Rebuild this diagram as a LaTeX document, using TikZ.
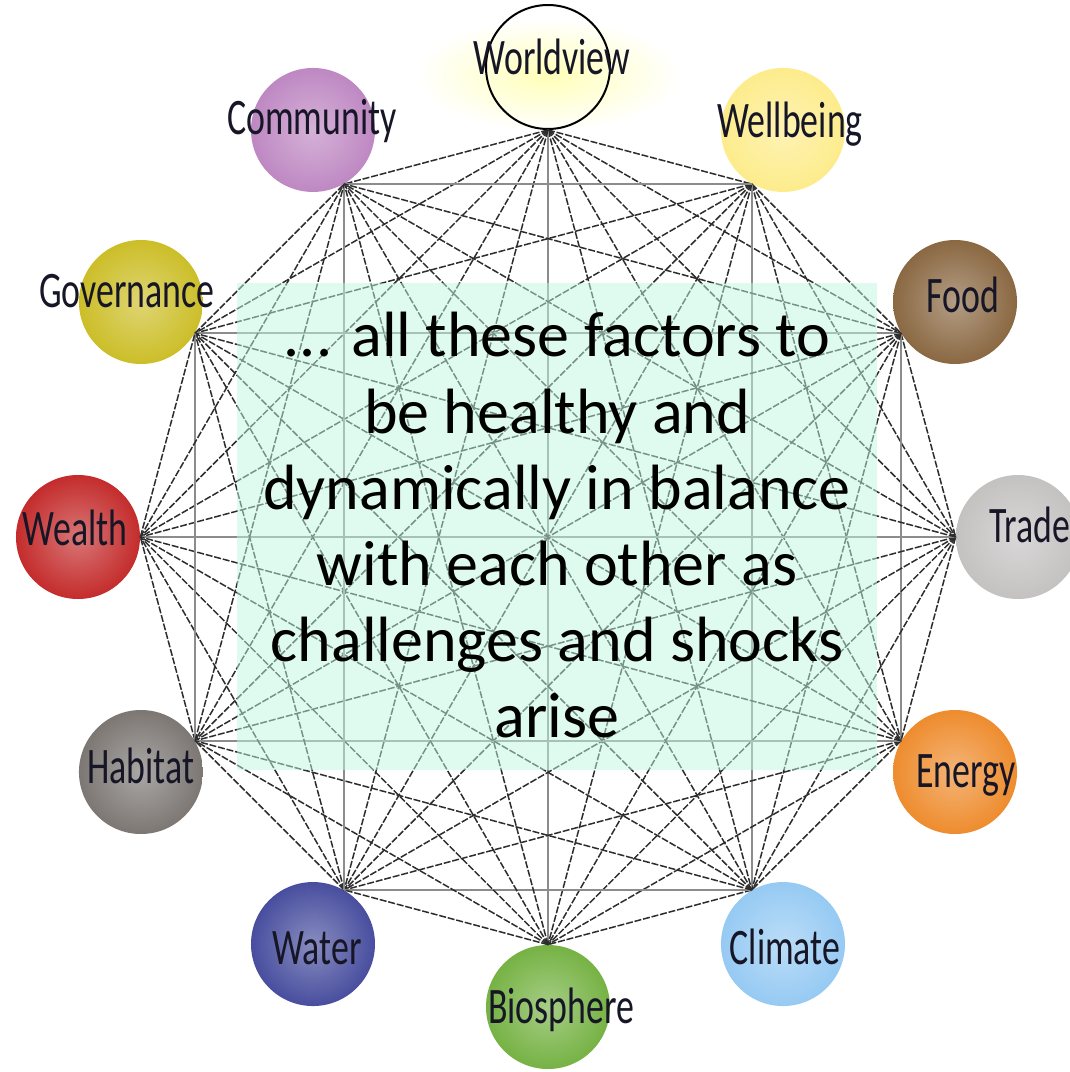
\documentclass[tikz,border=0pt]{standalone}
\usepackage{fontspec}
\setmainfont{Carlito}
\newfontfamily\factorfont[FakeStretch=0.7]{Carlito}
\usetikzlibrary{backgrounds}

\definecolor{labelink}{RGB}{22,22,38}
\definecolor{linkgray}{RGB}{45,45,45}
\definecolor{mintbox}{RGB}{192,247,223}
\definecolor{wellbeingc}{RGB}{253,236,140}
\definecolor{foodc}{RGB}{138,104,66}
\definecolor{tradec}{RGB}{196,193,193}
\definecolor{energyc}{RGB}{238,140,46}
\definecolor{climatec}{RGB}{150,202,243}
\definecolor{biospherec}{RGB}{118,178,68}
\definecolor{waterc}{RGB}{72,78,158}
\definecolor{habitatc}{RGB}{124,119,115}
\definecolor{wealthc}{RGB}{196,44,44}
\definecolor{governancec}{RGB}{204,190,40}
\definecolor{communityc}{RGB}{190,136,194}

\begin{document}
\begin{tikzpicture}[x=0.5pt,y=0.5pt,
    factor/.style={circle,minimum size=62pt,inner sep=0pt},
    factorlabel/.style={font=\factorfont\fontsize{25.6}{28}\selectfont,text=labelink,inner sep=0pt,anchor=base},
    link/.style={draw=linkgray,line width=0.75pt,dash pattern=on 3.5pt off 0.9pt},
    gridline/.style={draw=gray!90,line width=0.75pt},
    ]
    \useasboundingbox (-548,-535) rectangle (522,537);

    % factors round the ring
    \node[factor,draw=black,line width=1pt] (worldview) at (90:470) {};
    \node[factorlabel] (worldview-txt) at ([shift={(4,-8)}]worldview) {Worldview};
    \foreach \a/\name/\txt/\col/\dx/\dy in {
        60/wellbeing/Wellbeing/wellbeingc/7/-8,
        30/food/Food/foodc/8/-11,
        0/trade/Trade/tradec/12/-5,
        -30/energy/Energy/energyc/11/-15,
        -60/climate/Climate/climatec/2/-20,
        -90/biosphere/Biosphere/biospherec/13/-16,
        -120/water/Water/waterc/4/-20,
        -150/habitat/Habitat/habitatc/0/-11,
        180/wealth/Wealth/wealthc/-3/-8,
        150/governance/Governance/governancec/-14/-6,
        120/community/Community/communityc/-1/-5}
    {
      \node[factor,inner color=\col!65!white,outer color=\col] (\name) at (\a:470) {};
      \node[factorlabel] (\name-txt) at ([shift={(\dx,\dy)}]\name) {\txt};
    }

    % glow behind the top label
    \begin{scope}[on background layer]
      \shade[inner color=yellow!28!white,outer color=white] ([yshift=-4pt]worldview) ellipse [x radius=66pt,y radius=28pt];
    \end{scope}

    % every factor linked to every other
    \foreach \p [count=\i] in {worldview,wellbeing,food,trade,energy,climate,biosphere,water,habitat,wealth,governance,community}
      \foreach \q [count=\j] in {worldview,wellbeing,food,trade,energy,climate,biosphere,water,habitat,wealth,governance,community}
      {
        \ifnum\j>\i
          \pgfmathtruncatemacro\ai{mod(660-30*\i,360)}
          \pgfmathtruncatemacro\aj{mod(660-30*\j,360)}
          \pgfmathtruncatemacro\axis{mod(\i+\j-2,6)}
          \ifnum\axis=0
            \draw[gridline] (\p.\ai) -- (\q.\aj);
          \else
            \draw[link] (\p.\ai) -- (\q.\aj);
          \fi
        \fi
      }

    % message
    \node[fill=mintbox,fill opacity=0.5,minimum width=320pt,minimum height=243.5pt,inner sep=0pt] (box) at (9,10.5) {};
    \node[font=\fontsize{32}{38.1}\selectfont,align=center,inner sep=0pt,anchor=north] (msg) at (9,225)
      {... all these factors to\\be healthy and\\dynamically in balance\\with each other as\\challenges and shocks\\arise};
\end{tikzpicture}
\end{document}
